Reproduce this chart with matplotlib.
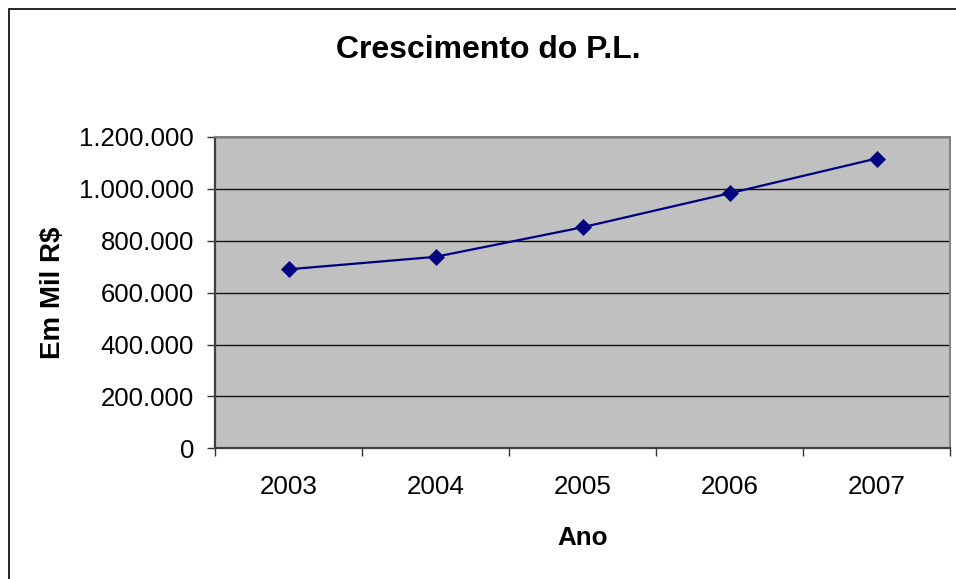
import matplotlib
matplotlib.use("Agg")
import matplotlib.pyplot as plt
from matplotlib.patches import Rectangle
from matplotlib.ticker import FuncFormatter, FixedLocator

years = ["2003", "2004", "2005", "2006", "2007"]
values = [690000, 738000, 852000, 983000, 1117000]
y_ticks = [0, 200000, 400000, 600000, 800000, 1000000, 1200000]

plt.rcParams['font.family'] = ['Liberation Sans', 'DejaVu Sans']

W, H = 956, 579
fig = plt.figure(figsize=(W / 100, H / 100), dpi=100)
fig.patch.set_facecolor('white')

# chart border (top and left visible)
border = Rectangle((9 / W, -0.5), 2.0, (1 - 9 / H) + 0.5, transform=fig.transFigure,
                   fill=False, edgecolor='black', linewidth=1.2, clip_on=False)
fig.add_artist(border)

left, right = 215 / W, 950 / W
bottom, top = 1 - 448.3 / H, 1 - 137 / H
ax = fig.add_axes([left, bottom, right - left, top - bottom])
ax.set_facecolor('#C0C0C0')

x = list(range(len(years)))
ax.plot(x, values, color='#000080', linewidth=1.6, marker='D', markersize=8,
        markerfacecolor='#000080', markeredgecolor='#000080', markeredgewidth=0.5,
        zorder=3)

ax.set_xlim(-0.5, len(years) - 0.5)
ax.set_ylim(0, 1200000)
ax.yaxis.set_major_locator(FixedLocator(y_ticks))
ax.yaxis.set_major_formatter(FuncFormatter(lambda v, p: f"{int(v):,}".replace(",", ".")))
ax.grid(axis='y', color='#111111', linewidth=1.0, zorder=1)
ax.set_axisbelow(True)

ax.set_xticks(x)
ax.set_xticklabels(years)
ax.set_xticks([i - 0.5 for i in range(len(years) + 1)], minor=True)
ax.tick_params(axis='x', which='major', length=0, pad=19, labelsize=18.7, colors='black')
ax.tick_params(axis='x', which='minor', length=6, width=1, color='#333333', direction='out')
ax.tick_params(axis='y', which='major', length=6, width=1, color='#333333', pad=9,
               labelsize=18.5, labelcolor='black', direction='out')

for side in ['left', 'bottom']:
    ax.spines[side].set_color('#404040')
    ax.spines[side].set_linewidth(1.6)
for side in ['top', 'right']:
    ax.spines[side].set_color('#808080')
    ax.spines[side].set_linewidth(1.4)

fig.text(488 / W, 1 - 50 / H, "Crescimento do P.L.", ha='center', va='center',
         fontsize=23, fontweight='bold')
fig.text(583 / W, 1 - 538 / H, "Ano", ha='center', va='center',
         fontsize=18.7, fontweight='bold')
fig.text(53 / W, 1 - 293 / H, "Em Mil R$", ha='center', va='center', rotation=90,
         fontsize=20, fontweight='bold')

fig.savefig("out.png", dpi=100, facecolor='white')
